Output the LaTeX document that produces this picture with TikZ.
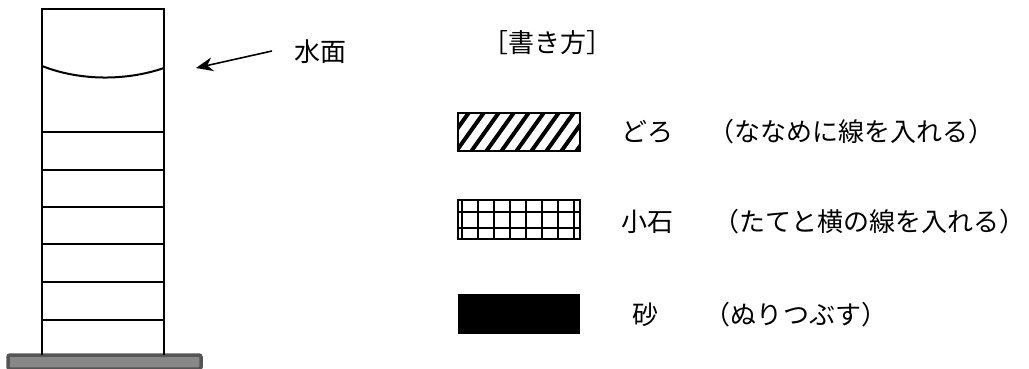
\documentclass[tikz,border=0pt]{standalone}
\usepackage{fontspec}
\setmainfont{Noto Sans CJK JP}
\usetikzlibrary{arrows.meta}
\definecolor{platedark}{HTML}{555555}
\definecolor{platelight}{HTML}{888888}
\begin{document}
\begin{tikzpicture}[x=1pt,y=-1pt,
  wall/.style={line width=1.6pt},
  ring/.style={line width=1.4pt},
  jp/.style={inner sep=0pt, font=\fontsize{26}{26}\selectfont},
  legendbox/.style={draw=black, line width=1.2pt}]
\useasboundingbox (0,0) rectangle (1029,368);
% base plate
\node[draw=platedark, fill=platelight, line width=3.5pt, rounded corners=2pt,
      minimum width=193pt, minimum height=14pt, inner sep=0pt] (plate) at (104.5,362) {};
% cylinder
\coordinate (tl) at (42,9);
\coordinate (tr) at (164,9);
\coordinate (bl) at (42,355);
\coordinate (br) at (164,355);
\draw[wall] (bl) -- (tl) -- (tr) -- (br);
\foreach \yy in {132,170,207,244,282,320}
  \draw[ring] (42,\yy) -- (164,\yy);
% meniscus
\coordinate (m1) at (42,66);
\coordinate (m2) at (164,68);
\draw[line width=2pt] (m1) .. controls (80,81) and (126,81) .. (m2);
% label and arrow
\node[jp] (water) at (320,52) {水面};
\coordinate (atail) at (272,51);
\coordinate (ahead) at (196,68);
\draw[line width=1.6pt, -{Stealth[length=17pt,width=14pt]}] (atail) -- (ahead);
% legend title
\node[jp] (title) at (547,43) {［書き方］};
% legend: mud (diagonal)
\node[legendbox, minimum width=122pt, minimum height=38pt, inner sep=0pt] (mud) at (519,132) {};
\begin{scope}
  \clip (458,113) rectangle (580,151);
  \foreach \xx in {425,440,...,600}
    \draw[line width=4pt] (\xx,153) -- (\xx+30,111);
\end{scope}
\draw[line width=1.2pt] (mud.north west) rectangle (mud.south east);
% legend: pebbles (grid)
\node[legendbox, minimum width=122pt, minimum height=39pt, inner sep=0pt] (pebble) at (519,219.5) {};
\begin{scope}
  \clip (458,200) rectangle (580,239);
  \foreach \xx in {462,478,...,574}
    \draw[line width=1.6pt] (\xx,200) -- (\xx,239);
  \foreach \yy in {212,228}
    \draw[line width=1.6pt] (458,\yy) -- (580,\yy);
\end{scope}
% legend: sand (solid)
\node[fill=black, minimum width=122pt, minimum height=40pt, inner sep=0pt] (sand) at (519,314) {};
% legend texts
\node[jp] (t1) at (647,132) {どろ};
\node[jp] (t2) at (647,222) {小石};
\node[jp] (t3) at (645,315) {砂};
\node[jp] (d1) at (851,132) {（ななめに線を入れる）};
\node[jp] (d2) at (869,222) {（たてと横の線を入れる）};
\node[jp] (d3) at (796,315) {（ぬりつぶす）};
\end{tikzpicture}
\end{document}
